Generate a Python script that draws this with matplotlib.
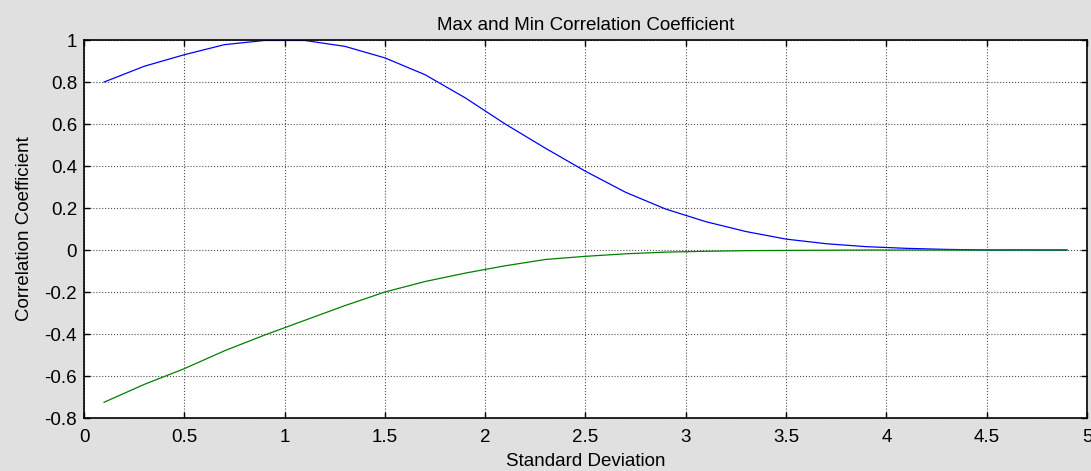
import matplotlib.pyplot as plt
import numpy as np

plt.rcParams['font.family'] = ['Liberation Sans', 'DejaVu Sans']

# standard deviation samples
sigma = [0.1, 0.3, 0.5, 0.7, 0.9, 1.1, 1.3, 1.5, 1.7, 1.9, 2.1, 2.3, 2.5,
         2.7, 2.9, 3.1, 3.3, 3.5, 3.7, 3.9, 4.1, 4.3, 4.5, 4.7, 4.9]
# max correlation coefficient
r_max = [0.80, 0.875, 0.93, 0.978, 0.998, 0.998, 0.97, 0.915, 0.835, 0.725,
         0.60, 0.485, 0.375, 0.275, 0.195, 0.135, 0.088, 0.052, 0.03, 0.016,
         0.008, 0.003, 0.0, 0.0, 0.0]
# min correlation coefficient
r_min = [-0.725, -0.64, -0.565, -0.48, -0.405, -0.335, -0.265, -0.20, -0.15,
         -0.11, -0.075, -0.045, -0.03, -0.018, -0.01, -0.006, -0.003, -0.002,
         -0.001, 0.0, 0.0, 0.0, 0.0, 0.0, 0.0]

bg = '#e0e0e0'
fig = plt.figure(figsize=(10.91, 4.71), dpi=100, facecolor=bg)
ax = fig.add_axes([0.077, 0.1125, 0.9193, 0.8025])
ax.set_facecolor('white')

ax.plot(sigma, r_max, color='#0000ff', linewidth=0.9)
ax.plot(sigma, r_min, color='#008000', linewidth=0.9)

ax.set_xlim(0, 5)
ax.set_ylim(-0.8, 1)
ax.set_xticks(np.arange(0, 5.01, 0.5))
ax.set_xticklabels(['0', '0.5', '1', '1.5', '2', '2.5', '3', '3.5', '4', '4.5', '5'])
ax.set_yticks(np.arange(-0.8, 1.01, 0.2))
ax.set_yticklabels(['-0.8', '-0.6', '-0.4', '-0.2', '0', '0.2', '0.4', '0.6', '0.8', '1'])

ax.grid(True, color='#505050', linestyle=':', linewidth=0.8)
ax.tick_params(direction='in', length=4, width=1, top=True, right=True,
               labelsize=13.5, colors='black')
ax.tick_params(axis='x', pad=8)
ax.tick_params(axis='y', pad=5)
for s in ax.spines.values():
    s.set_linewidth(1.2)
    s.set_color('black')

ax.set_title('Max and Min Correlation Coefficient', fontsize=13.5, pad=7)
ax.set_xlabel('Standard Deviation', fontsize=13.5, labelpad=5)
ax.set_ylabel('Correlation Coefficient', fontsize=13.5, labelpad=8)

fig.savefig('out.png', dpi=100, facecolor=bg)
